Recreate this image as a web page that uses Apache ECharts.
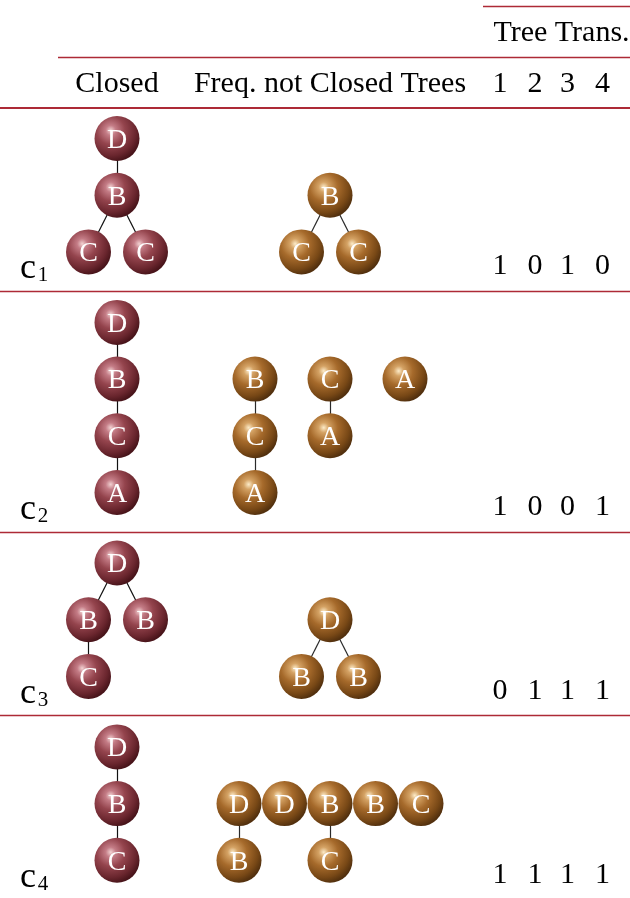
<!DOCTYPE html>
<html><head><meta charset="utf-8">
<script src="https://cdn.jsdelivr.net/npm/echarts@6/dist/echarts.min.js"></script>
<style>html,body{margin:0;padding:0;background:#fff}#c{width:630px;height:898px}</style>
</head><body><div id="c"></div>
<script>
// ---------------- data ----------------
const rowIds = ['1', '2', '3', '4'];
const txIds = ['1', '2', '3', '4'];
const colHeaders = ['Closed', 'Freq. not Closed Trees'];
const groupHeader = 'Tree Trans.';
// tree node = [label, children?]
const closedTrees = [
  ['D', [['B', [['C'], ['C']]]]],
  ['D', [['B', [['C', [['A']]]]]]],
  ['D', [['B', [['C']]], ['B']]],
  ['D', [['B', [['C']]]]]
];
const freqForests = [
  [['B', [['C'], ['C']]]],
  [['B', [['C', [['A']]]]], ['C', [['A']]], ['A']],
  [['D', [['B'], ['B']]]],
  [['D', [['B']]], ['D'], ['B', [['C']]], ['B'], ['C']]
];
const transactions = [
  [1, 0, 1, 0],
  [1, 0, 0, 1],
  [0, 1, 1, 1],
  [1, 1, 1, 1]
];

// ---------------- layout ----------------
const W = 630, H = 898;
const LAY = {
  closedX: 117, freqX: 330, childGap: 57, forestGap: [57, 75, 57, 45.5],
  level: 56.7, rootPad: 31.5, rowPad: 39, headBottom: 107.5,
  txX: [500, 535, 567.5, 602.5],
  groupLineY: 6.5, groupLineX0: 483, midLineY: 57.5, midLineX0: 58,
  groupY: 33, groupX: 561.5, headY: 84, digitOff: 24.5,
  labelX: 28, subX: 43, labelOff: 22, subOff: 15
};
const FONT = 'Liberation Serif';
const RULE = '#ad2a36';

function depth(n) { return 1 + (n[1] ? Math.max(...n[1].map(depth)) : 0); }
function width(n) { return n[1] ? n[1].reduce((s, c) => s + width(c), 0) : 1; }
function layoutTree(n, left, lvl) {
  if (!n[1]) return { label: n[0], x: left + 0.5, lvl, kids: [] };
  let cur = left; const kids = [];
  n[1].forEach(c => { kids.push(layoutTree(c, cur, lvl + 1)); cur += width(c); });
  return { label: n[0], x: (kids[0].x + kids[kids.length - 1].x) / 2, lvl, kids };
}
function emit(t, cx, w, rootY, lvlOff, nodes, edges, parent) {
  const px = cx + (t.x - w / 2) * LAY.childGap;
  const py = rootY + (t.lvl + lvlOff) * LAY.level;
  nodes.push({ value: [px, py], name: t.label });
  if (parent) edges.push({ coords: [parent, [px, py]] });
  t.kids.forEach(k => emit(k, cx, w, rootY, lvlOff, nodes, edges, [px, py]));
}

const closedNodes = [], freqNodes = [], closedEdges = [], freqEdges = [];
const rules = [], texts = [];

// header
rules.push({ coords: [[LAY.groupLineX0, LAY.groupLineY], [W, LAY.groupLineY]] });
rules.push({ coords: [[LAY.midLineX0, LAY.midLineY], [W, LAY.midLineY]] });
rules.push({ coords: [[0, LAY.headBottom], [W, LAY.headBottom]], lineStyle: { width: 2 } });
texts.push({ value: [LAY.groupX, LAY.groupY], name: groupHeader });
texts.push({ value: [LAY.closedX, LAY.headY], name: colHeaders[0] });
texts.push({ value: [LAY.freqX, LAY.headY], name: colHeaders[1] });
txIds.forEach((t, j) => texts.push({ value: [LAY.txX[j], LAY.headY], name: t }));

let rowTop = 107;
closedTrees.forEach((tree, r) => {
  const rootY = rowTop + LAY.rootPad;
  const dc = depth(tree);
  const t = layoutTree(tree, 0, 0);
  emit(t, LAY.closedX, width(tree), rootY, 0, closedNodes, closedEdges, null);

  const forest = freqForests[r];
  const df = Math.max(...forest.map(depth));
  const ws = forest.map(width);
  const centers = [0];
  for (let i = 1; i < forest.length; i++) {
    centers.push(centers[i - 1] + (ws[i - 1] - 1) * LAY.childGap / 2 + LAY.forestGap[r] + (ws[i] - 1) * LAY.childGap / 2);
  }
  const lo = centers[0] - (ws[0] - 1) * LAY.childGap / 2;
  const hi = centers[centers.length - 1] + (ws[ws.length - 1] - 1) * LAY.childGap / 2;
  const shift = LAY.freqX - (lo + hi) / 2;
  forest.forEach((ft, i) => {
    emit(layoutTree(ft, 0, 0), centers[i] + shift, ws[i], rootY, dc - df, freqNodes, freqEdges, null);
  });

  const bottom = rootY + (dc - 1) * LAY.level + LAY.rowPad;
  const dy = bottom - LAY.digitOff;
  transactions[r].forEach((v, j) => texts.push({ value: [LAY.txX[j], dy], name: String(v) }));
  texts.push({ value: [LAY.labelX, bottom - LAY.labelOff], name: 'c', label: { fontSize: 36 } });
  texts.push({ value: [LAY.subX, bottom - LAY.subOff], name: rowIds[r], label: { fontSize: 21 } });
  if (r < closedTrees.length - 1) rules.push({ coords: [[0, Math.round(bottom) + 0.5], [W, Math.round(bottom) + 0.5]] });
  rowTop = bottom;
});

function sphere(stops) {
  return { type: 'radial', x: 0.36, y: 0.32, r: 0.7, colorStops: stops.map((c, i) => ({ offset: [0, 0.16, 0.45, 0.8, 1][i], color: c })) };
}
const closedFill = sphere(['#f2d2d2', '#c47c86', '#94444d', '#6a262e', '#48141a']);
const freqFill = sphere(['#fcebc8', '#d4a264', '#a66a2b', '#784816', '#52300e']);
const nodeLabel = { show: true, position: 'inside', offset: [0, 2], formatter: '{b}', color: '#ffffff', fontFamily: FONT, fontSize: 28 };

const chart = echarts.init(document.getElementById('c'), null, { renderer: 'canvas' });
chart.setOption({
  animation: false,
  backgroundColor: '#ffffff',
  grid: { left: 0, right: 0, top: 0, bottom: 0 },
  xAxis: { type: 'value', min: 0, max: W, show: false },
  yAxis: { type: 'value', min: 0, max: H, inverse: true, show: false },
  series: [
    { type: 'lines', coordinateSystem: 'cartesian2d', silent: true, z: 1, data: rules,
      lineStyle: { color: RULE, width: 1.4, opacity: 1 } },
    { type: 'lines', coordinateSystem: 'cartesian2d', silent: true, z: 2, data: closedEdges,
      lineStyle: { color: '#111111', width: 1.2, opacity: 1 } },
    { type: 'lines', coordinateSystem: 'cartesian2d', silent: true, z: 2, data: freqEdges,
      lineStyle: { color: '#2a2a2a', width: 1.2, opacity: 1 } },
    { type: 'scatter', silent: true, z: 3, symbol: 'circle', symbolSize: 45, data: closedNodes,
      itemStyle: { color: closedFill, opacity: 1 }, label: nodeLabel },
    { type: 'scatter', silent: true, z: 3, symbol: 'circle', symbolSize: 45, data: freqNodes,
      itemStyle: { color: freqFill, opacity: 1 }, label: nodeLabel },
    { type: 'scatter', silent: true, z: 4, symbol: 'circle', symbolSize: 1, data: texts,
      itemStyle: { color: 'rgba(0,0,0,0)', opacity: 1 },
      label: { show: true, position: 'inside', formatter: '{b}', color: '#000000', opacity: 1, fontFamily: FONT, fontSize: 30 } }
  ]
});
</script></body></html>
